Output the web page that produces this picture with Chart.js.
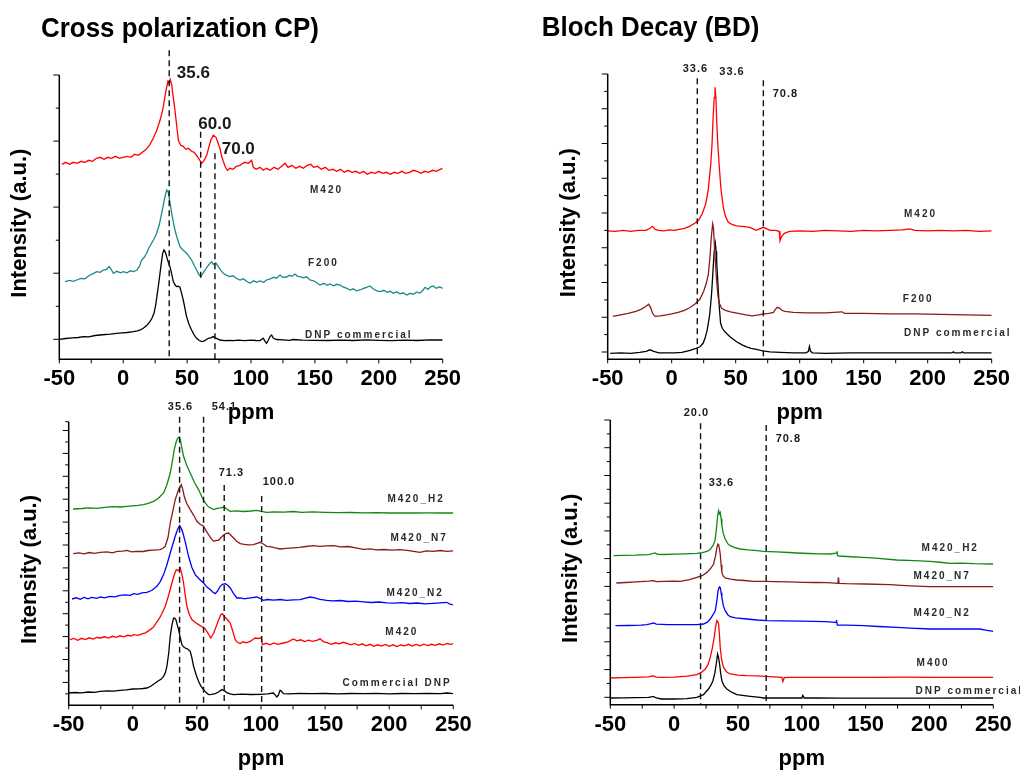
<!DOCTYPE html>
<html>
<head>
<meta charset="utf-8">
<script src="https://cdn.jsdelivr.net/npm/chart.js@4.4.1/dist/chart.umd.min.js"></script>
<style>
  body { margin: 0; background: #fff; }
  canvas { position: absolute; left: 0; top: 0; }
</style>
</head>
<body>
<canvas id="cp1" width="1020" height="773"></canvas>
<canvas id="bd1" width="1020" height="773"></canvas>
<canvas id="cp2" width="1020" height="773"></canvas>
<canvas id="bd2" width="1020" height="773"></canvas>
<script>
// ppm axis
const xMajorTicks = [-50, 0, 50, 100, 150, 200, 250];
const xMinorTicks = [-25, 25, 75, 125, 175, 225];

// ---- Cross polarization (top left): [ppm, intensity a.u.]
const cpM420 = [[-48,195],[-45,197],[-42,195],[-39,197],[-36,196],[-33,198],[-30,197],[-27,199],[-24,198],[-21,201],[-18,202],[-15,200],[-12,202],[-9,201],[-6,203],[-3,201],[0,202],[3,203],[6,202],[9,205],[12,204],[15,207],[18,210],[21,215],[23.5,221],[26,228],[28.8,239],[31,250],[32.7,263],[34,272],[35,278],[36,276],[36.8,280],[38,274],[39.2,262],[40.5,249],[42,232],[43.2,219],[45,214],[47,213],[49,210],[51,211],[53.5,208],[55.5,207],[57.5,204],[59.5,200],[61.4,196],[63.3,199],[65.3,204],[67,212],[68.5,219],[70.5,224],[72.6,222],[74,217],[75.7,211],[77,203],[78.3,198],[80,192],[81.5,189],[83.5,191],[86,190],[88.5,193],[91.4,194],[93.5,196],[95.3,197],[98,196],[100.5,199],[101.8,192],[104,190],[107,192],[109.6,189],[112,191],[115,189],[118,192],[121,190],[124,193],[126.6,196],[129,192],[132,194],[135,191],[138,193],[141,191],[144,194],[146.7,195],[149,192],[152,193],[155,190],[158,192],[161,189],[164,190],[167,188],[170,190],[173,187],[176,189],[179,187],[182,188],[185,186],[188,188],[191,185],[194,187],[197,186],[200,188],[203,186],[206,187],[209,185],[212,187],[215,186],[218,188],[221,186],[224,187],[227,189],[230,188],[233,186],[236,188],[239,187],[242,189],[245,188],[248,190],[250,191]];
const cpF200 = [[-45.6,77.7],[-42,79],[-39,78],[-36.4,79.3],[-33,81],[-30,80.5],[-26,84.3],[-23,86],[-20.8,87.7],[-18,87],[-15.6,89.3],[-13,90],[-10.9,92.7],[-9,89],[-7.7,86],[-5,88],[-2,86.5],[0,87.7],[3,86.5],[5.5,88.5],[7.9,87.7],[10.5,89],[12.6,92.7],[14.4,99.3],[16.5,102],[18.3,106],[20,111],[22.2,116],[24,120],[26.2,126],[28.3,135],[30.1,146],[31.5,155],[32.7,162.7],[34,169.3],[35.3,167],[36.2,160],[37.1,152.7],[38.8,140],[40.5,129.3],[42.5,120],[44.4,112.7],[47,109],[49.6,106],[51.5,103],[53.5,99.3],[55.5,94],[57.5,89.3],[59,85],[60.8,82.7],[62.3,86],[64,89.3],[66,93],[67.9,96],[69.3,97.5],[70.5,95],[72.5,96.5],[74.4,92.7],[76.5,89],[78.3,86],[81,84],[83.5,82.7],[86,83.5],[88.5,81],[91.4,79.3],[94,80.5],[96.5,78],[99.2,76],[102,78.5],[104.5,77],[107,78.3],[110,77],[112.2,79.3],[115,80.5],[118,82],[120,81],[122.7,84.3],[125,82],[127.9,82.3],[130,84],[132,83],[134.4,85.3],[136.5,83],[138.3,82.7],[141,81.5],[143.5,82.5],[146.1,79.3],[149,78.5],[151.5,76.5],[154,74.3],[157,76],[159.5,74],[161.8,75.3],[164.5,73.5],[167,75],[169.6,74.3],[172,72.5],[175,71],[177.4,69.3],[180,70.5],[182.5,68.5],[185.3,69.3],[188,71],[190.5,72],[193.1,73.3],[196,70],[198.5,68.5],[201,67.7],[204,69],[206.5,67],[209,68],[211.3,66],[214,67.5],[216.5,65.5],[219,66.5],[221.8,64.3],[224.5,66],[227,65],[229.6,67.3],[232,66],[234.5,69],[236.1,72],[238.5,70],[240.5,72.5],[242.6,73.3],[245,71],[247.5,72.5],[250,71]];
const cpDNP = [[-50,20],[-45,20.8],[-40,21.5],[-35,21.8],[-31.2,22.7],[-27,22.5],[-22,23.8],[-18.2,24.3],[-14,24.8],[-10,25.2],[-5.1,26],[-1,26.5],[3,26.8],[7.9,27.7],[11,28.5],[13.5,29.5],[15.7,31],[18.5,34],[20.9,37.7],[22.5,41],[24.1,46],[25.5,55],[26.7,66],[27.8,76],[28.8,86],[30,98],[30.9,106],[31.9,109.3],[33,107],[34,102.7],[35.3,97],[36.6,92.7],[38,85],[39.2,77.7],[40.5,74.5],[41.8,72.7],[43,73],[44.4,72],[45.7,66],[47,59.3],[48.3,51],[49.6,42.7],[51.5,35],[53.5,29.3],[55.5,24.5],[57.5,21],[59.5,18.8],[61.4,17.7],[63.5,18.5],[66.6,21],[68.5,21.5],[70.5,22.7],[73,21],[75.7,19.3],[79,18.7],[83,19],[86.1,18.7],[90,19.2],[95,18.7],[100,19.2],[104,18.8],[107,18.7],[109.6,21],[111,18],[112.2,16],[113.5,19],[115,23],[116.1,24.3],[117.5,21],[120,19.8],[125,19.5],[130,19],[133.1,19.8],[140,19.2],[150,19],[160,18.8],[170,19.2],[180,18.8],[190.5,19.5],[200,19],[210,18.7],[220,19.2],[230,18.8],[240,19.5],[250,19.3]];

// ---- Bloch decay (top right)
const bdM420 = [[-50,128.5],[-44,128],[-38,129],[-32,128],[-26,129],[-20,129],[-17,131],[-15,133],[-13,130],[-10,129],[-6,128.5],[-2,129.5],[2,129],[6,130],[10,131],[14,133],[18,136],[21,139],[24,146],[26.5,155],[28.6,170],[30.5,195],[31.5,215],[32.3,240],[33.2,262],[33.8,272],[34.5,262],[35.1,240],[36,215],[37.2,192],[38.5,170],[40.3,152],[42,143],[44.2,137],[47,135],[50.7,133.5],[55,133],[61,132],[66,129],[71.6,132],[76.8,129],[81,129],[84,128],[84.6,118.5],[86,123],[88,126],[92,128],[100,128.5],[110,128],[120,129],[130,128.5],[140,128],[150,129],[160,128.5],[170,129],[180,129.5],[186,130.5],[190,129],[200,128.5],[210,129],[220,128.5],[230,129],[240,128],[250,128.5]];
const bdF200 = [[-46,43],[-40,44.5],[-34,46],[-28,48],[-24,50],[-20,53],[-18,55],[-16.5,52],[-15,46],[-13,43],[-9,43.5],[-4,44.5],[0,45.5],[5,47],[10,49],[14,51.5],[18,55],[22,60],[25,68],[27,76],[28.6,85],[29.9,102],[30.7,118],[31.4,128],[32,135.5],[32.6,132],[33.3,115],[34,100],[35,80],[36.2,63],[37.2,56],[39,51],[42,49],[46,47.5],[52,46],[58,44.5],[63,43.5],[68,44.5],[72,45.5],[76,46],[79.5,47],[81,50],[82.5,52],[84.5,51],[86,49],[88.5,48],[95,47],[105,46.5],[120,46.5],[133,47.5],[135,46],[150,46],[170,45.5],[190,45.5],[210,45],[230,44.5],[250,44]];
const bdDNP = [[-48,6],[-40,6.5],[-32,6],[-25,7],[-20,8],[-17,9.5],[-14,8],[-10,6.5],[-4,6.5],[2,6.5],[8,7],[14.3,9],[19,11],[22.1,12.5],[24.5,16],[26,21],[27.5,28],[28.6,36],[29.7,45],[30.5,56],[31.3,68],[32,83],[32.7,98],[33.3,109],[34.1,116],[34.7,108],[35.1,99],[35.7,85],[36.4,69],[37.2,52],[38.2,36],[39.5,31],[41.6,27.5],[45.5,22.5],[50.7,17.5],[55,14.5],[58.5,12.5],[62,11],[66.3,10],[71,8.5],[76.8,7.5],[85,7],[95,6.5],[105,6.5],[106.8,8],[107.6,13],[108.5,8],[110,6.5],[120,6],[140,6.5],[160,6.5],[180,6.5],[200,6.5],[219,6.5],[220,7.5],[221,6.5],[226,6.5],[227,7.5],[228,6.5],[240,6.5],[250,6.5]];

// ---- Cross polarization, treated samples (bottom left)
const cpH2 = [[-46.6,196.3],[-40,196.8],[-34,197.5],[-28,197],[-22,198],[-16,198.6],[-10,198.3],[-4.5,199],[0,199.5],[4,200],[8.4,200.7],[12,202],[16.2,204],[20,207],[24,212.3],[26.5,220],[29.2,232.3],[31,245],[32.3,255.7],[34,264],[35.2,267.3],[36,268],[37,265.7],[38.2,258],[39.6,249],[42,240],[44.8,232.3],[48,223],[51.3,215.7],[54,208],[56.5,202.3],[59,198.5],[63,195.7],[66,197],[68.2,197.5],[71.3,198.3],[73.5,196],[76,194],[80,194.5],[86,193.8],[92,194.3],[96.8,195],[100,194],[104.5,193],[110,193.5],[118,193.2],[125,193.8],[132,193],[140,193.5],[150,193],[160,192.6],[170,192.8],[180,192.4],[190,192.6],[200,192.3],[210,192.5],[220,192.3],[230,192.4],[240,192.3],[250,192.3]];
const cpN7 = [[-46.6,151.7],[-42,152.5],[-38,151.5],[-34,152.8],[-30,152],[-25.3,153],[-20,153.5],[-16,152.5],[-12,154],[-8,154.2],[-4.5,155],[-1,153.5],[3,154],[8,153.8],[12,154.8],[16,155.2],[21.4,155.7],[23.5,157],[25.3,159],[27.5,168],[29.2,182.3],[31,193],[33.1,205.7],[35.7,215.7],[37.8,220.7],[39,216],[40.1,209],[42,202],[44.8,195.7],[47.5,190],[50,184],[52.5,181],[55.2,179],[57,175],[59.1,170.7],[61,167],[63,164],[65,165],[66.9,165],[69,168],[71.3,170.7],[73,172],[74.7,172.3],[76.5,170],[78.6,167.3],[81,164],[83.8,161.7],[87,161],[90,160.5],[94.2,160.7],[97,162],[99.4,163],[101.5,161.5],[104.5,159],[108,158.5],[111,157.5],[115,156.3],[120,157],[125,157.5],[130,158],[135,158.8],[141,159.7],[146,159],[151,159.5],[156.5,159.7],[162,158.5],[168,158.8],[174,157.5],[180,156],[185,156.5],[190,155.5],[196,155.8],[202,155.2],[208.4,155.7],[214,155],[219,154],[224,153],[229,154.5],[234,154],[240,154.8],[245,154],[250,154.5]];
const cpN2 = [[-47.4,106.3],[-44,107.5],[-41,106],[-38,107.8],[-35,106.5],[-32,108],[-28,107],[-25.3,108.3],[-22,107.5],[-18,109],[-14,108.5],[-10,110],[-6,110.5],[-2,110],[0.6,111.7],[4,111],[7,112.5],[11,113],[15,115],[18.8,119],[21.5,124],[24,130.7],[26.5,140],[29.2,152.3],[31.2,161],[33.1,169],[35,176],[36.5,179.7],[37.8,177],[39.1,172.3],[41,163],[43.5,149],[46,138],[48.7,130.7],[52,126],[55.2,122.3],[58,118],[60.4,115.7],[62.5,113],[64.3,111.7],[66,114],[68.2,119],[70,121],[72.1,121.7],[74,120],[76,117.3],[78.5,112],[81.2,107.3],[84,107.5],[87,106.5],[89,107],[92,107.5],[96.8,108.3],[99,107],[101.9,105],[105,105.8],[110,105.2],[115,105.8],[120,105],[125,105.5],[130.5,105.7],[134,107],[138.3,108.3],[142,107.5],[146,106],[151.3,105],[156,104.5],[162,104.8],[168,103.8],[174,104.2],[180,103.5],[186,102.8],[192,103.3],[198,102.5],[204,102.2],[210,102.7],[216,101.8],[222,102.3],[228,101.5],[234,102],[240,102.5],[244.8,103],[247,101.5],[250,100.3]];
const cpM420b = [[-49,65.7],[-46,66.8],[-43,65],[-40,67],[-37,65.8],[-34,67.5],[-31,66.2],[-28,67.8],[-25.3,67.3],[-22,68.5],[-19,67.2],[-16,69],[-13,68],[-10,69.5],[-7,68.5],[-4,70],[-1,69.2],[0.6,70.7],[4,70],[7,71.5],[10,72.5],[13.6,75.7],[16,78],[18,82],[20.1,85.7],[22.5,91],[25.3,99],[27.5,108],[30.5,122.3],[32.2,130],[33.9,135.7],[35.5,134.5],[37,137.3],[38.3,131],[39.6,122.3],[40.9,110],[42.2,99],[44,91],[46.1,85.7],[48.5,83],[51.3,80.7],[54,78.5],[56.5,76.3],[58.7,72],[60.9,67.3],[63,72],[65.1,79],[67,85.5],[68.7,90.7],[70,91.5],[71.3,89],[73.5,86],[76,82.3],[78,74],[79.9,65.7],[81.5,63],[83.8,61.7],[86,63.5],[88.5,62.5],[91.6,64],[93.5,65.5],[95.5,67.3],[98,66.8],[100.4,67.5],[101,60.7],[104,62],[107,60.5],[110,62.3],[113,61],[117.5,62.3],[121,63.5],[125.3,66.3],[128,64.5],[131,65.5],[134,63.8],[137,65.2],[140,64],[143.5,65],[146,66.5],[149,63.5],[152,62.5],[155,61],[158,62.5],[161,61.5],[164,63],[167,62],[170,60.5],[173,61.8],[176,60],[179,61.5],[182,59.5],[185,61],[188,59],[191,60.5],[194,59.2],[197,60.8],[200,59],[203,60.5],[206,58.8],[209,60.3],[212,59.5],[215,61],[218,59.3],[221,60.8],[224,59.5],[227,61.2],[230,59.8],[233,61],[236,60],[239,61.5],[242,60.3],[245,61.8],[248,61],[250,61.7]];
const cpDNPb = [[-50,12.3],[-45,12.8],[-40,12.5],[-35,13.3],[-30,13],[-25.3,14],[-20,14.5],[-15,14.2],[-10,15],[-5,15.5],[0,16.3],[5,16.5],[8,16.8],[11,17.3],[14,19],[17.5,22.3],[20,24.5],[22,26],[24,29],[25.5,33],[26.6,39],[28,52],[29.2,69],[30.5,80],[31.8,87.3],[32.8,87],[33.6,85.7],[34.6,81],[35.7,75.7],[37,68],[38.3,60.7],[39.5,58.5],[40.9,57.3],[42.5,56.5],[44.8,54],[46,48],[47.4,39],[49.5,30],[51.3,24],[53,19.5],[55.2,15.7],[57,13],[59.1,10.7],[61.5,11],[64.3,11.7],[66.5,13],[69.5,15.7],[71.5,14.5],[73.4,12.7],[76,11.5],[78.6,10.7],[85,11.2],[92,10.8],[100,11],[105,11.5],[109.7,12.3],[111,10.5],[112.3,8.3],[113.5,10],[114.9,15],[116,14],[117.5,11.7],[122,11.5],[130,12],[140,11.6],[150,11.8],[160,11.5],[170,11.8],[180,11.6],[190,11.9],[200,11.5],[210,11.8],[220,11.6],[230,11.9],[240,11.6],[245,12.3],[250,11.7]];

// ---- Bloch decay, treated samples (bottom right)
const bdH2 = [[-47.4,149],[-40,149.3],[-30,149.5],[-20,150],[-17,151],[-15,151.8],[-13,150.3],[-8,150.2],[0,150.5],[8,150.8],[17.8,151.3],[22,152],[25.7,153.3],[28,155],[30.4,159],[32,164],[33,174],[34,188],[34.8,194],[35.5,191],[36.1,192.3],[36.8,186],[37.4,179],[38.5,171],[40,165.7],[42,161],[43.9,159],[47,157.3],[51.7,155.7],[58,154.8],[65,154],[70,153.3],[80,152.8],[90,152.2],[96.1,151.7],[105,151.2],[115,150.8],[122.2,150.7],[127,151.5],[127.5,153.5],[128,149],[129,148.7],[135,148.2],[148.3,147.3],[160,146.3],[174.4,144.7],[188,144],[200.5,143.3],[210,142.2],[216.1,141.3],[225,141.5],[235,141],[250,140.7]];
const bdN7 = [[-45.3,121.7],[-38,122.2],[-30,122.8],[-20,123.5],[-16,124],[-14,123],[-8,123.3],[0,123.5],[4.8,123.3],[12,125],[17.8,127.3],[22,129],[25.7,132.3],[28.5,136],[30.9,140.7],[32.3,148],[33.5,157.3],[34.3,160.5],[34.8,160],[35.5,156],[36.1,150.7],[36.8,140],[37.4,132.3],[38.5,128.5],[40,126.7],[44,125.5],[49.1,124.7],[55,124.2],[62,123.3],[70,123.3],[80,123],[90,122.8],[101.3,122.3],[110,122.2],[120,122],[128.3,121.3],[128.7,127.3],[129.2,121.3],[135,121],[150,120.7],[169.1,120],[175,119.5],[185,118.8],[200,118],[220,118],[250,118]];
const bdN2 = [[-46,79],[-36,79.2],[-26,79.5],[-21.3,80],[-18,81],[-16,81.7],[-14,80.5],[-5,80],[5,80],[17.8,80],[23,80.7],[26,82.5],[28.3,85.7],[30.5,90],[32.2,94],[33.5,104],[34.3,113],[34.8,115.7],[35.5,117.8],[36.1,117.3],[36.8,112],[37.4,107.3],[38.5,99],[40,94],[42,90],[43.9,88],[48,86.8],[57,85.7],[65,84.7],[72.6,84],[85,83.8],[100,83.5],[109.1,83.3],[118,83],[126.8,82.3],[127.2,84.7],[127.8,79.7],[135,79.5],[148.3,79],[160,78.2],[174.4,77.3],[185,76.5],[200.5,75.7],[220,75.7],[239.6,75.7],[244,74.5],[250,73.3]];
const bdM400 = [[-50,26.7],[-40,27],[-30,27.3],[-20,27.8],[-18,28.5],[-16,28.7],[-14,27.5],[-10,27.3],[0,27.5],[10,28.5],[17.8,30],[21,32],[24.4,35.7],[26.5,40],[28.3,47.3],[30,57],[31.4,67.3],[32.5,78],[33.5,84],[34.2,83],[34.8,80.7],[35.5,70],[36.1,57.3],[37.2,45],[38.7,37.3],[41,33],[43.9,30.7],[50,29.5],[57,29],[65,28.8],[71.3,28.3],[78,27.8],[84.4,27.3],[85.2,23.3],[86.2,27],[90,27.3],[100,27.4],[120,27.3],[140,27.4],[160,27.3],[180,27.5],[200,27.3],[220,27.4],[250,27.3]];
const bdDNPb = [[-50,6.7],[-40,6.8],[-30,7],[-20,7.3],[-17,8],[-16,8],[-14,6.7],[-10,5.7],[0,5.7],[10,6],[17.8,7.3],[23,10],[26.9,15.7],[29,20],[30.4,24],[31.8,31],[33,40.7],[34,50.7],[34.8,47],[35.6,40.7],[36.5,31],[37.4,24],[39,19],[41.3,15.7],[45,12.5],[49.1,10],[55,9],[59.6,8.3],[67.4,7.3],[70,6.7],[85,6.7],[100,6.7],[100.8,9.3],[101.8,6.7],[110,6.7],[130,6.5],[150,6.5],[200,6.5],[250,6.7]];

// y axis tick values (a.u.) per panel
const cpYMajor = [20, 86.1, 152.2, 218.2, 284.3];
const cpYMinor = [53, 119.1, 185.2, 251.2];
const bdYMajor = [7.3, 42.05, 76.8, 111.55, 146.3, 181.05, 215.8, 250.55, 285.3];
const bdYMinor = [24.7, 59.4, 94.2, 128.9, 163.7, 198.4, 233.2, 267.9];
const cp2YMajor = [22.9, 45.8, 68.7, 91.6, 114.5, 137.4, 160.3, 183.2, 206.1, 229, 251.9, 274.8];
const cp2YMinor = [11.45, 34.35, 57.25, 80.15, 103.05, 125.95, 148.85, 171.75, 194.65, 217.55, 240.45, 263.35, 283.6];
const bd2YMajor = [7.4, 35.1, 62.9, 90.6, 118.3, 146.1, 173.8, 201.5, 229.2, 257, 284.7];
const bd2YMinor = [21.3, 49, 76.7, 104.5, 132.2, 159.9, 187.7, 215.4, 243.1, 270.8];

// peak markers: ppm, top and bottom of dashed line
const cpDashes = [{x: 36, from: 309, to: 0}, {x: 60.6, from: 227.6, to: 81}, {x: 71.8, from: 206, to: 0}];
const bdDashes = [{x: 20, from: 281, to: 0}, {x: 71.6, from: 279, to: 0}];
const cp2Dashes = [{x: 36.5, from: 288.6, to: 0}, {x: 55.2, from: 288.6, to: 0}, {x: 71.3, from: 220.3, to: 0}, {x: 100.5, from: 209.3, to: 0}];
const bd2Dashes = [{x: 20.7, from: 281.4, to: 0}, {x: 72.1, from: 279.7, to: 0}];

const cpPeaks = [['35.6', 41.9, 286], ['60.0', 58.8, 234.6], ['70.0', 77.1, 209.6]];
const bdPeaks = [['33.6', 8.6, 290], ['33.6', 37.2, 287], ['70.8', 78.9, 265]];
const cp2Peaks = [['35.6', 27.3, 298.6], ['54.1', 61.5, 298.6], ['71.3', 67, 232.6], ['100.0', 101.3, 223.3]];
const bd2Peaks = [['20.0', 7.5, 291.7], ['70.8', 79.5, 265.7], ['33.6', 27.1, 221.7]];

const cpNames = [['M420', 146.2, 169.3], ['F200', 144.6, 96.3], ['DNP commercial', 142.3, 24.3]];
const bdNames = [['M420', 181.5, 145], ['F200', 180.6, 60], ['DNP commercial', 181.5, 26]];
const cp2Names = [['M420_H2', 198.6, 206.3], ['M420_N7', 201, 167.3], ['M420_N2', 197.9, 112.3], ['M420', 197, 73.3], ['Commercial DNP', 163.6, 22.3]];
const bd2Names = [['M420_H2', 193.8, 156.7], ['M420_N7', 187.5, 128.7], ['M420_N2', 187.5, 91.7], ['M400', 189.9, 41.7], ['DNP commercial', 189.1, 13.7]];

const FONT = '"Liberation Sans", Arial, sans-serif';

const panels = [
  { id: 'cp1', box: [59.3, 75, 442.7, 359.3], yMax: 284.3, yMajor: cpYMajor, yMinor: cpYMinor,
    series: [[cpM420, '#ff0000'], [cpF200, '#1a8a8a'], [cpDNP, '#000000']],
    dashes: cpDashes, peaks: cpPeaks, peakFont: 'bold 17px ' + FONT, peakSpacing: '0px',
    names: cpNames, title: ['Cross polarization CP)', 41, 36.5, 278] },
  { id: 'bd1', box: [607.7, 74, 991.7, 359.3], yMax: 285.3, yMajor: bdYMajor, yMinor: bdYMinor,
    series: [[bdM420, '#ff0000'], [bdF200, '#8b1a1a'], [bdDNP, '#000000']],
    dashes: bdDashes, peaks: bdPeaks, peakFont: 'bold 11px ' + FONT, peakSpacing: '1px',
    names: bdNames, title: ['Bloch Decay (BD)', 541.7, 36, 217.7] },
  { id: 'cp2', box: [68.7, 421.7, 453.3, 705.3], yMax: 283.6, yMajor: cp2YMajor, yMinor: cp2YMinor,
    series: [[cpH2, '#118811'], [cpN7, '#8b1a1a'], [cpN2, '#0000ff'], [cpM420b, '#ff0000'], [cpDNPb, '#000000']],
    dashes: cp2Dashes, peaks: cp2Peaks, peakFont: 'bold 11px ' + FONT, peakSpacing: '1px',
    names: cp2Names, title: null },
  { id: 'bd2', box: [610.3, 420, 993.3, 704.7], yMax: 284.7, yMajor: bd2YMajor, yMinor: bd2YMinor,
    series: [[bdH2, '#118811'], [bdN7, '#8b1a1a'], [bdN2, '#0000ff'], [bdM400, '#ff0000'], [bdDNPb, '#000000']],
    dashes: bd2Dashes, peaks: bd2Peaks, peakFont: 'bold 11px ' + FONT, peakSpacing: '1px',
    names: bd2Names, title: null }
];

function drawText(ctx, str, x, y, font, opts = {}) {
  ctx.save();
  ctx.font = font;
  ctx.fillStyle = opts.color || '#000';
  ctx.textAlign = opts.align || 'left';
  ctx.textBaseline = opts.baseline || 'alphabetic';
  ctx.letterSpacing = opts.spacing || '0px';
  ctx.translate(x, y);
  if (opts.rotate) ctx.rotate(opts.rotate);
  ctx.fillText(str, 0, 0);
  ctx.restore();
}

function makeFrame(p) {
  return {
    id: 'frame',
    afterDatasetsDraw(chart) {
      const ctx = chart.ctx, xs = chart.scales.x, ys = chart.scales.y;
      const X = v => xs.getPixelForValue(v), Y = v => ys.getPixelForValue(v);
      const L = X(-50), R = X(250), B = Y(0), T = Y(p.yMax);
      ctx.save();
      // dashed peak lines
      ctx.strokeStyle = '#111';
      ctx.lineWidth = 1.4;
      ctx.setLineDash([6, 4]);
      p.dashes.forEach(d => {
        ctx.beginPath();
        ctx.moveTo(X(d.x), Y(d.from));
        ctx.lineTo(X(d.x), Y(d.to));
        ctx.stroke();
      });
      ctx.setLineDash([]);
      // axes
      ctx.strokeStyle = '#000';
      ctx.lineWidth = 1.5;
      ctx.beginPath();
      ctx.moveTo(L, T); ctx.lineTo(L, B); ctx.lineTo(R, B);
      ctx.stroke();
      ctx.lineWidth = 1;
      ctx.beginPath();
      xMajorTicks.concat(xMinorTicks).forEach(v => { ctx.moveTo(X(v), B); ctx.lineTo(X(v), B + 4); });
      p.yMajor.forEach(v => { ctx.moveTo(L, Y(v)); ctx.lineTo(L - 6, Y(v)); });
      p.yMinor.forEach(v => { ctx.moveTo(L, Y(v)); ctx.lineTo(L - 3.5, Y(v)); });
      ctx.stroke();
      ctx.restore();

      xMajorTicks.forEach(v => drawText(ctx, String(v), X(v), B + 26, 'bold 22px ' + FONT, {align: 'center'}));
      drawText(ctx, 'ppm', (L + R) / 2, B + 60, 'bold 22px ' + FONT, {align: 'center'});
      drawText(ctx, 'Intensity (a.u.)', L - 33, (T + B) / 2 + 6, 'bold 22px ' + FONT, {align: 'center', rotate: -Math.PI / 2});

      p.peaks.forEach(([t, x, y]) => drawText(ctx, t, X(x), Y(y), p.peakFont, {baseline: 'middle', spacing: p.peakSpacing, color: '#1a1a1a'}));
      p.names.forEach(([t, x, y]) => drawText(ctx, t, X(x), Y(y), 'bold 10px ' + FONT, {baseline: 'middle', spacing: '2px', color: '#2a2a2a'}));

      if (p.title) {
        const [t, tx, ty, tw] = p.title;
        ctx.save();
        ctx.font = 'bold 28px ' + FONT;
        const w = ctx.measureText(t).width;
        ctx.translate(tx, ty);
        ctx.scale(tw / w, 1);
        ctx.fillStyle = '#000';
        ctx.fillText(t, 0, 0);
        ctx.restore();
      }
    }
  };
}

panels.forEach(p => {
  new Chart(document.getElementById(p.id), {
    type: 'line',
    data: {
      datasets: p.series.map(([pts, color]) => ({
        data: pts.map(([x, y]) => ({x, y})),
        borderColor: color,
        borderWidth: 1.3,
        pointRadius: 0,
        tension: 0,
        fill: false
      }))
    },
    options: {
      responsive: false,
      animation: false,
      events: [],
      layout: { padding: { left: p.box[0], top: p.box[1], right: 1020 - p.box[2], bottom: 773 - p.box[3] } },
      scales: {
        x: { type: 'linear', min: -50, max: 250, display: false },
        y: { type: 'linear', min: 0, max: p.yMax, display: false }
      },
      plugins: { legend: { display: false }, tooltip: { enabled: false } }
    },
    plugins: [makeFrame(p)]
  });
});
</script>
</body>
</html>
